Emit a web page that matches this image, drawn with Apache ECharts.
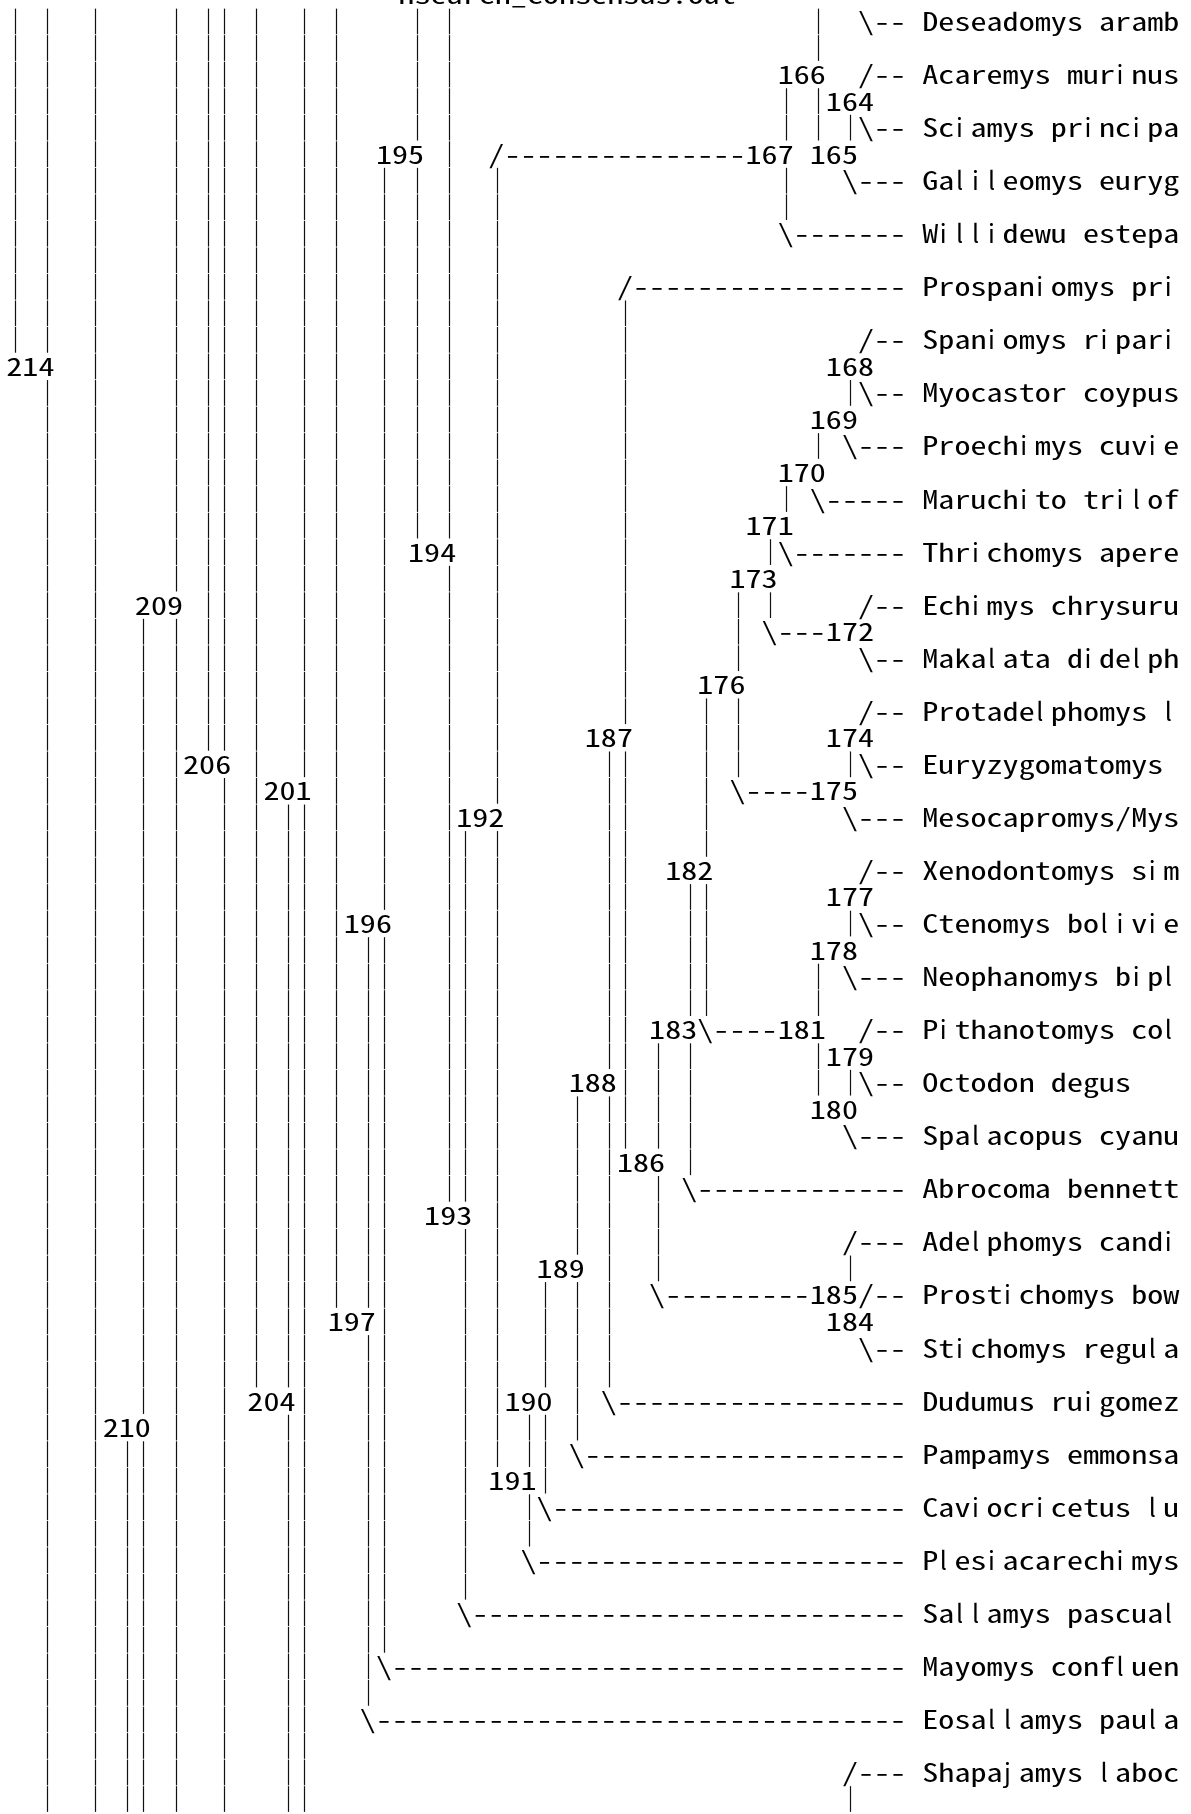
<!DOCTYPE html>
<html><head><meta charset="utf-8">
<script src="https://cdn.jsdelivr.net/npm/echarts@6/dist/echarts.min.js"></script>
<style>html,body{margin:0;padding:0;background:#fff;overflow:hidden}#c{width:1191px;height:1814px}</style>
</head><body><div id="c"></div>
<script>
// ---- data: text tree drawn on a character grid (rows / columns) ----
const headerText = 'hsearch_consensus.out';
const headerRow = -1, headerCol = 24.4;
const nameCol = 57;
const taxa = [
  'Deseadomys aramb','Acaremys murinus','Sciamys principa','Galileomys euryg','Willidewu estepa',
  'Prospaniomys pri','Spaniomys ripari','Myocastor coypus','Proechimys cuvie','Maruchito trilof',
  'Thrichomys apere','Echimys chrysuru','Makalata didelph','Protadelphomys l','Euryzygomatomys ',
  'Mesocapromys/Mys','Xenodontomys sim','Ctenomys bolivie','Neophanomys bipl','Pithanotomys col',
  'Octodon degus','Spalacopus cyanu','Abrocoma bennett','Adelphomys candi','Prostichomys bow',
  'Stichomys regula','Dudumus ruigomez','Pampamys emmonsa','Caviocricetus lu','Plesiacarechimys',
  'Sallamys pascual','Mayomys confluen','Eosallamys paula','Shapajamys laboc'
];
const taxonRows = [0,2,4,6,8,10,12,14,16,18,20,22,24,26,28,30,32,34,36,38,40,42,44,46,48,50,52,54,56,58,60,62,64,66];
// node labels: [row, col, label]
const nodeLabels = [
  [2,48,'166'],[3,51,'164'],[5,23,'195'],[5,46,'167'],[5,50,'165'],[13,0,'214'],[13,51,'168'],
  [15,50,'169'],[17,48,'170'],[19,46,'171'],[20,25,'194'],[21,45,'173'],[22,8,'209'],[23,51,'172'],
  [25,43,'176'],[27,36,'187'],[27,51,'174'],[28,11,'206'],[29,16,'201'],[29,50,'175'],[30,28,'192'],
  [32,41,'182'],[33,51,'177'],[34,21,'196'],[35,50,'178'],[38,40,'183'],[38,48,'181'],[39,51,'179'],
  [40,35,'188'],[41,50,'180'],[43,38,'186'],[45,26,'193'],[47,33,'189'],[48,50,'185'],[49,20,'197'],
  [49,51,'184'],[52,15,'204'],[52,31,'190'],[53,6,'210'],[55,30,'191']
];
// horizontal branches: [row, col, corner glyph, number of dashes]
const branches = [
  [0,53,'\\',2],[2,53,'/',2],[4,53,'\\',2],[5,30,'/',15],[6,52,'\\',3],[8,48,'\\',7],[10,38,'/',17],
  [12,53,'/',2],[14,53,'\\',2],[16,52,'\\',3],[18,50,'\\',5],[20,48,'\\',7],[22,53,'/',2],[23,47,'\\',3],
  [24,53,'\\',2],[26,53,'/',2],[28,53,'\\',2],[29,45,'\\',4],[30,52,'\\',3],[32,53,'/',2],[34,53,'\\',2],
  [36,52,'\\',3],[38,43,'\\',4],[38,53,'/',2],[40,53,'\\',2],[42,52,'\\',3],[44,42,'\\',13],[46,52,'/',3],
  [48,40,'\\',9],[48,53,'/',2],[50,53,'\\',2],[52,37,'\\',18],[54,35,'\\',20],[56,33,'\\',22],
  [58,32,'\\',23],[60,28,'\\',27],[62,23,'\\',32],[64,22,'\\',33],[66,52,'/',3]
];
// vertical stems: [col, fromRow, toRow]
const stems = [
  [0,0,12],[2,0,67],[5,0,67],[7,54,67],[8,23,67],[10,0,67],[12,0,27],[13,0,67],[15,0,51],[17,30,67],
  [18,0,67],[20,0,48],[22,35,63],[23,6,61],[25,0,19],[27,0,44],[28,31,59],[30,6,54],[32,53,57],
  [33,48,55],[35,41,53],[37,28,51],[38,11,42],[40,39,47],[42,33,43],[43,26,37],[45,22,28],[47,20,22],
  [48,3,7],[48,18,18],[50,0,4],[50,16,16],[50,36,40],[52,4,4],[52,14,14],[52,28,28],[52,34,34],
  [52,40,40],[52,47,47],[52,67,67]
];

// ---- build the character grid ----
const COLS = 74;
const rowsMap = {};
function put(r, c, ch) { if (c < 0 || c >= COLS) return; (rowsMap[r] = rowsMap[r] || Array(COLS).fill(' '))[c] = ch; }
function write(r, c, s) { for (let i = 0; i < s.length; i++) put(r, c + i, s[i]); }
stems.forEach(([c, a, b]) => { for (let r = a; r <= b; r++) put(r, c, '|'); });
branches.forEach(([r, c, g, n]) => write(r, c, g + '-'.repeat(n)));
nodeLabels.forEach(([r, c, t]) => write(r, c, t));
taxa.forEach((t, i) => write(taxonRows[i], nameCol, t));

const cells = [];
Object.keys(rowsMap).forEach(k => {
  const r = +k;
  rowsMap[k].forEach((ch, c) => { if (ch !== ' ') cells.push({ r, c, ch }); });
});
for (let i = 0; i < headerText.length; i++) cells.push({ r: headerRow, c: headerCol + i, ch: headerText[i] });

// ---- layout ----
const CW = 16.07, X0 = 15.3, RH = 26.53, Y0 = 21.5, W = 1191, H = 1814;
const xMin = -X0 / CW, yMin = -Y0 / RH;
const FS = 25;
const SX = CW / (FS / 2);   // half-width glyphs widened to fill a cell
const FONT = FS + 'px "Noto Sans Mono CJK JP", "Noto Sans CJK JP", "DejaVu Sans", sans-serif';
const NARROW_FONT = FS + 'px "Noto Sans CJK JP", "DejaVu Sans", sans-serif';
const NARROW = 'ilj';

const chart = echarts.init(document.getElementById('c'), null, { renderer: 'canvas' });
chart.setOption({
  backgroundColor: '#ffffff',
  animation: false,
  grid: { left: 0, right: 0, top: 0, bottom: 0 },
  xAxis: { type: 'value', min: xMin, max: xMin + W / CW, show: false },
  yAxis: { type: 'value', inverse: true, min: yMin, max: yMin + H / RH, show: false },
  series: [{
    type: 'custom',
    coordinateSystem: 'cartesian2d',
    clip: false,
    silent: true,
    data: cells.map(d => [d.c, d.r]),
    renderItem: function (params, api) {
      const p = api.coord([api.value(0), api.value(1)]);
      const sz = api.size([1, 1]);
      const ch = cells[params.dataIndex].ch;
      const left = p[0] - sz[0] / 2;
      if (ch === '|') {
        const x = Math.round(p[0] - 0.5) + 0.5;
        return { type: 'line', shape: { x1: x, y1: p[1] - sz[1] / 2 + 0.4, x2: x, y2: p[1] + sz[1] / 2 - 0.4 },
                 style: { stroke: '#111', lineWidth: 1.2 } };
      }
      if (NARROW.indexOf(ch) >= 0) {
        return { type: 'text', x: left + 0.5, y: p[1],
                 style: { text: ch, fill: '#000', font: NARROW_FONT, align: 'left', verticalAlign: 'middle' } };
      }
      return { type: 'text', x: left - 1, y: p[1], scaleX: SX, scaleY: 1,
               style: { text: ch, fill: '#000', font: FONT, align: 'left', verticalAlign: 'middle' } };
    }
  }]
});
</script></body></html>
